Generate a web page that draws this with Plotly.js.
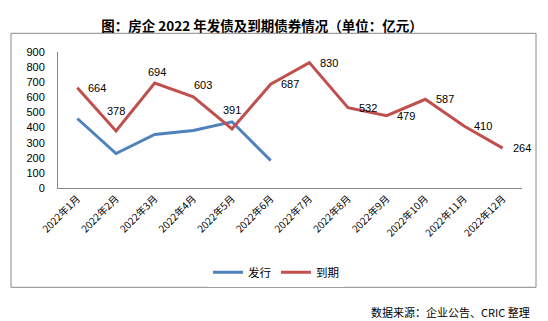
<!DOCTYPE html>
<html><head><meta charset="utf-8">
<script src="https://cdn.plot.ly/plotly-3.0.1.min.js"></script>
<style>body{margin:0;background:#fff}#c{width:548px;height:321px}</style>
</head><body><div id="c"></div>
<script>
const months = ["2022年1月","2022年2月","2022年3月","2022年4月","2022年5月","2022年6月","2022年7月","2022年8月","2022年9月","2022年10月","2022年11月","2022年12月"];
const issueMonths = months.slice(0, 6);
const issued = [460, 228, 354, 380, 438, 182];
const maturing = [664, 378, 694, 603, 391, 687, 830, 532, 479, 587, 410, 264];
const labelShiftX = [20, 0, 2, 10, 0, 19, 20, 20, 19, 20, 19, 19];
const labelShiftY = [0, 20, 11, 12, 19, 0, 0, 0, 0, 0, 0, 0];

const font = "'Liberation Sans', 'Noto Sans CJK SC', sans-serif";
const annotations = maturing.map((v, i) => ({
  x: months[i], y: v, xref: 'x', yref: 'y', text: String(v), showarrow: false,
  xshift: labelShiftX[i], yshift: labelShiftY[i],
  font: {family: font, size: 11, color: '#000'}
}));
annotations.push({
  xref: 'paper', yref: 'paper', x: 1.022, y: -0.91, xanchor: 'right', yanchor: 'middle',
  text: '数据来源：企业公告、CRIC 整理', showarrow: false,
  font: {family: "'Noto Sans CJK SC', sans-serif", size: 11, color: '#000'}
});

const data = [
  {x: issueMonths, y: issued, type: 'scatter', mode: 'lines', name: '发行',
   line: {color: '#4F81BD', width: 3}},
  {x: months, y: maturing, type: 'scatter', mode: 'lines', name: '到期',
   line: {color: '#C0504D', width: 3}}
];

const layout = {
  width: 548, height: 321,
  margin: {l: 58, r: 26, t: 51.7, b: 133.3},
  paper_bgcolor: '#fff', plot_bgcolor: '#fff',
  title: {text: '<b>图：房企 2022 年发债及到期债券情况（单位：亿元）</b>', x: 262 / 548, xref: 'container', xanchor: 'center',
          y: 17, yref: 'container', yanchor: 'middle',
          font: {family: "'Noto Sans CJK SC', sans-serif", size: 13.5, color: '#000'}},
  showlegend: true,
  legend: {orientation: 'h', x: (208 - 58) / 464, xanchor: 'left', y: -0.62, yanchor: 'middle',
           font: {family: "'Noto Sans CJK SC', sans-serif", size: 11.5, color: '#000'},
           tracegroupgap: 0},
  xaxis: {type: 'category', categoryorder: 'array', categoryarray: months,
          range: [-0.5, 11.5], showgrid: false, zeroline: false,
          showline: true, linecolor: '#868686', linewidth: 1,
          ticks: '', tickangle: -45,
          tickfont: {family: "'Noto Sans CJK SC', sans-serif", size: 10, color: '#000'}},
  yaxis: {range: [0, 900], dtick: 100, showgrid: false, zeroline: false,
          showline: true, linecolor: '#868686', linewidth: 1, ticks: '',
          ticklabelstandoff: 10,
          tickfont: {family: font, size: 11, color: '#000'}},
  shapes: [{type: 'rect', xref: 'paper', yref: 'paper',
            x0: (11 - 58) / 464, x1: (536 - 58) / 464,
            y0: (187.7 - 287) / 136, y1: (187.7 - 33) / 136,
            line: {color: '#888', width: 1}, fillcolor: 'rgba(0,0,0,0)'}],
  annotations: annotations
};
Plotly.newPlot('c', data, layout, {displayModeBar: false, staticPlot: true});
</script></body></html>
